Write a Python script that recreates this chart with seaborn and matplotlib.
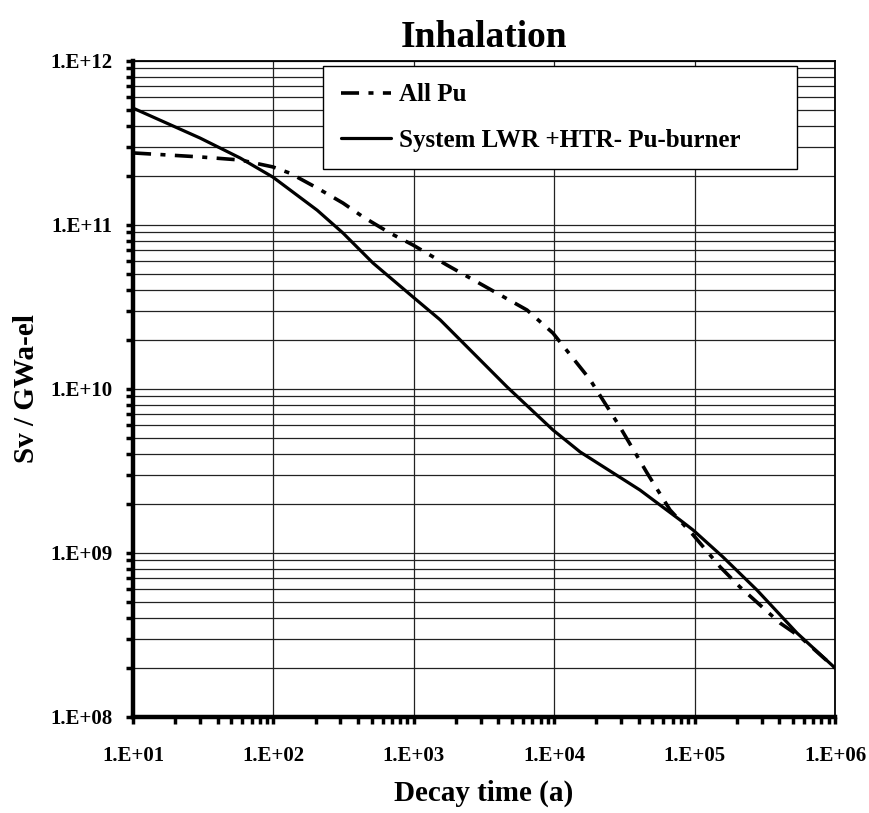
import matplotlib
matplotlib.use("Agg")
import matplotlib.pyplot as plt
import pandas as pd
import seaborn as sns
from matplotlib.ticker import FixedLocator, LogLocator, NullFormatter

# Radiotoxicity (inhalation) per GWa-el versus decay time
decay_time_all_pu = [10, 30, 58, 99, 131, 205, 313, 435, 676, 986, 1720, 6400,
                     9800, 18000, 29400, 45800, 66800, 97500, 152000, 210000,
                     406000, 564000, 1000000]
sv_all_pu = [2.75e11, 2.60e11, 2.49e11, 2.26e11, 2.07e11, 1.68e11, 1.36e11,
             1.12e11, 8.93e10, 7.55e10, 5.70e10, 3.03e10, 2.19e10, 1.14e10,
             5.86e9, 3.08e9, 1.83e9, 1.29e9, 8.22e8, 6.21e8, 3.74e8, 3.08e8,
             1.99e8]

decay_time_system = [10, 30, 58, 99, 205, 313, 512, 986, 1540, 4610, 9800,
                     15300, 40800, 78700, 97500, 159000, 278000, 536000,
                     1000000]
sv_system = [5.16e11, 3.39e11, 2.56e11, 1.96e11, 1.23e11, 8.93e10, 5.86e10,
             3.64e10, 2.64e10, 1.03e10, 5.62e9, 4.13e9, 2.42e9, 1.59e9,
             1.38e9, 9.46e8, 5.94e8, 3.25e8, 1.99e8]

series_names = ["All Pu", "System LWR +HTR- Pu-burner"]

x_tick_values = [1e1, 1e2, 1e3, 1e4, 1e5, 1e6]
x_tick_labels = ["1.E+01", "1.E+02", "1.E+03", "1.E+04", "1.E+05", "1.E+06"]
y_tick_values = [1e8, 1e9, 1e10, 1e11, 1e12]
y_tick_labels = ["1.E+08", "1.E+09", "1.E+10", "1.E+11", "1.E+12"]

df_all = pd.DataFrame({"t": decay_time_all_pu, "sv": sv_all_pu})
df_sys = pd.DataFrame({"t": decay_time_system, "sv": sv_system})

sns.set_theme(style="white")
plt.rcParams["font.family"] = ["Liberation Serif", "DejaVu Serif"]
plt.rcParams["font.weight"] = "bold"
for key in ["text.color", "axes.labelcolor", "xtick.color", "ytick.color"]:
    plt.rcParams[key] = "black"

fig = plt.figure(figsize=(8.7, 8.13), dpi=100)
ax = fig.add_axes([0.1529, 0.1181, 0.8069, 0.8069])

sns.lineplot(data=df_all, x="t", y="sv", ax=ax, color="black", lw=2.6,
             label=series_names[0], zorder=3)
sns.lineplot(data=df_sys, x="t", y="sv", ax=ax, color="black", lw=2.3,
             label=series_names[1], zorder=3)
ax.lines[0].set_dashes([5, 2.6, 1.4, 2.6])

ax.set_xscale("log")
ax.set_yscale("log")
ax.set_xlim(1e1, 1e6)
ax.set_ylim(1e8, 1e12)

ax.xaxis.set_major_locator(FixedLocator(x_tick_values))
ax.set_xticklabels(x_tick_labels)
ax.yaxis.set_major_locator(FixedLocator(y_tick_values))
ax.set_yticklabels(y_tick_labels)
ax.xaxis.set_minor_locator(LogLocator(base=10, subs=range(2, 10), numticks=20))
ax.yaxis.set_minor_locator(LogLocator(base=10, subs=range(2, 10), numticks=20))
ax.xaxis.set_minor_formatter(NullFormatter())
ax.yaxis.set_minor_formatter(NullFormatter())

ax.grid(True, which="major", axis="x", color="#222222", lw=0.9, zorder=0)
ax.grid(True, which="both", axis="y", color="#222222", lw=0.9, zorder=0)
ax.set_axisbelow(True)

ax.tick_params(axis="both", which="both", direction="out", color="black",
               labelcolor="black", width=2.5, length=5, bottom=True, left=True)
ax.tick_params(axis="x", which="major", pad=16, labelsize=15)
ax.tick_params(axis="y", which="major", pad=10, labelsize=15)
for lbl in ax.get_xticklabels() + ax.get_yticklabels():
    lbl.set_fontweight("bold")

for side in ["left", "bottom"]:
    ax.spines[side].set_linewidth(3.2)
    ax.spines[side].set_color("black")
for side in ["top", "right"]:
    ax.spines[side].set_linewidth(1.3)
    ax.spines[side].set_color("black")
    ax.spines[side].set_visible(True)

ax.set_xlabel("Decay time (a)", fontsize=21, fontweight="bold", labelpad=10,
              color="black")
ax.set_ylabel("Sv / GWa-el", fontsize=21, fontweight="bold", color="black")
ax.yaxis.set_label_coords(-0.133, 0.5)
ax.set_title("Inhalation", fontsize=27, fontweight="bold", pad=10,
             color="black")

leg = ax.legend(loc="upper left", bbox_to_anchor=(0.2707, 0.8354, 0.675, 0.157),
                mode="expand", borderaxespad=0, fontsize=18, frameon=True,
                fancybox=False, framealpha=1, edgecolor="black",
                handlelength=2.0, handletextpad=0.35, labelspacing=0.9,
                borderpad=0.7)
leg.get_frame().set_linewidth(1.0)
for txt in leg.get_texts():
    txt.set_fontweight("bold")
    txt.set_color("black")

fig.savefig("out.png", dpi=100)
